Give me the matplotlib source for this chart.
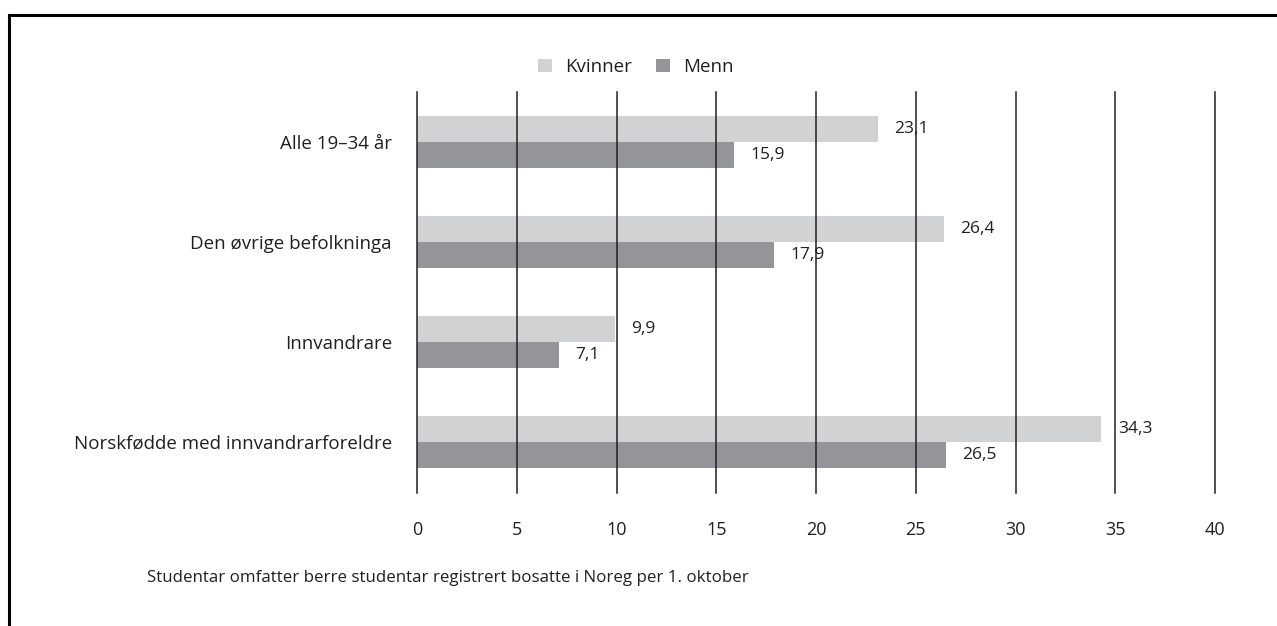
import matplotlib.pyplot as plt
import numpy as np
from matplotlib.lines import Line2D

categories = ['Alle 19–34 år', 'Den øvrige befolkninga', 'Innvandrare',
              'Norskfødde med innvandrarforeldre']
kvinner = [23.1, 26.4, 9.9, 34.3]
menn = [15.9, 17.9, 7.1, 26.5]
xticks = [0, 5, 10, 15, 20, 25, 30, 35, 40]
footnote = 'Studentar omfatter berre studentar registrert bosatte i Noreg per 1. oktober'

c_kv = '#d1d2d4'
c_me = '#939598'
txt = '#231f20'

plt.rcParams['font.family'] = ['Open Sans', 'DejaVu Sans']
plt.rcParams['font.size'] = 13

W, H = 1277, 626
fig = plt.figure(figsize=(W / 100, H / 100), dpi=100)
ax = fig.add_axes([417 / W, 1 - 493 / H, (1215 - 417) / W, (493 - 92) / H])

y = np.arange(len(categories))
h = 0.26
b1 = ax.barh(y - h / 2, kvinner, height=h, color=c_kv, label='Kvinner', zorder=1)
b2 = ax.barh(y + h / 2, menn, height=h, color=c_me, label='Menn', zorder=1)

for bars, vals in ((b1, kvinner), (b2, menn)):
    for bar, v in zip(bars, vals):
        ax.annotate(f'{v:.1f}'.replace('.', ','),
                    (bar.get_width(), bar.get_y() + bar.get_height() / 2),
                    xytext=(12, 0), textcoords='offset points',
                    ha='left', va='center', color=txt, fontsize=12.5, zorder=3)

for xv in xticks:
    ax.axvline(xv, color=txt, lw=1.1, zorder=2, clip_on=False)

ax.set_xlim(0, 40)
ax.set_ylim(3.51, -0.5)
ax.set_yticks(y)
ax.set_yticklabels(categories, color=txt, fontsize=13.5)
ax.set_xticks(xticks)
ax.set_xticklabels([str(v) for v in xticks], color=txt, fontsize=13)
ax.tick_params(axis='y', length=0, pad=18)
ax.tick_params(axis='x', length=0, pad=20)
for s in ax.spines.values():
    s.set_visible(False)

fig.legend(handles=[b1, b2], labels=['Kvinner', 'Menn'], loc='center',
           bbox_to_anchor=(636 / W, 1 - 67 / H), ncol=2, frameon=False,
           handlelength=0.75, handleheight=0.75, handletextpad=0.7,
           columnspacing=1.3, fontsize=13.5, labelcolor=txt)

fig.text(147 / W, 1 - 578 / H, footnote, ha='left', va='center',
         color=txt, fontsize=12.2)

# frame lines at top and left of the picture
fig.add_artist(Line2D([9 / W, 1], [1 - 15 / H, 1 - 15 / H], color='black',
                      lw=2.2, transform=fig.transFigure))
fig.add_artist(Line2D([9 / W, 9 / W], [0, 1 - 15 / H], color='black',
                      lw=2.2, transform=fig.transFigure))

fig.savefig('out.png', dpi=100)
